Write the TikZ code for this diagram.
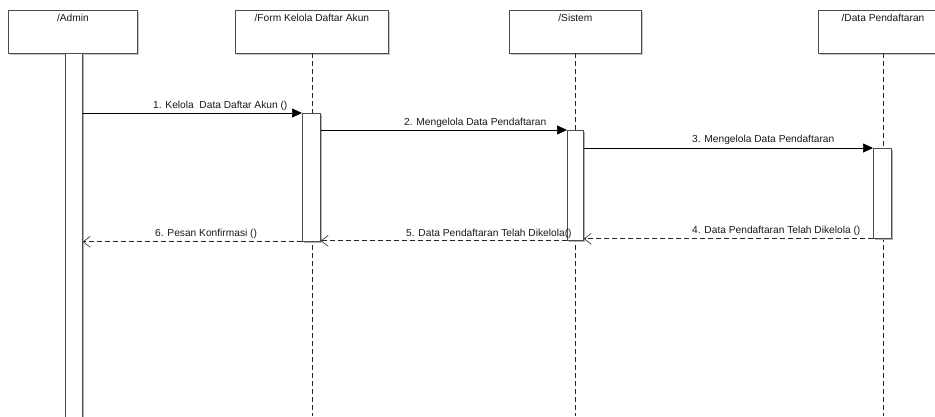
\documentclass[tikz,border=0pt]{standalone}
\usepackage{fontspec}
\setmainfont{Liberation Sans}
\usetikzlibrary{arrows.meta,shadows}
\begin{document}
\begin{tikzpicture}[x=1pt,y=-1pt,
  txt/.style={font=\fontsize{10.2}{12}\selectfont, inner sep=0pt, text=black!90},
  objbox/.style={draw=black!70, line width=0.8pt, fill=white, anchor=north west,
    drop shadow={shadow xshift=1.2pt, shadow yshift=-1.2pt, fill=black!22, opacity=1}},
  actbar/.style={draw=black!70, line width=0.8pt, fill=white, anchor=north west,
    drop shadow={shadow xshift=1.2pt, shadow yshift=-1.2pt, fill=black!30, opacity=1}},
  lifeline/.style={draw=black!85, line width=0.7pt, dash pattern=on 5pt off 3pt},
  syncmsg/.style={draw=black, line width=0.7pt, -{Triangle[length=10pt,width=9pt]}},
  retmsg/.style={draw=black!85, line width=0.7pt, dash pattern=on 5pt off 3pt,
    -{Straight Barb[length=7pt,width=11pt,line width=0.6pt]}}
]
\fill[white] (0,0) rectangle (935,416);
\useasboundingbox (0,0) rectangle (935,416);
\clip (0,0) rectangle (935,416);

% object boxes
\node[objbox, minimum width=129pt, minimum height=43pt] (admin) at (8,10) {};
\node[objbox, minimum width=153pt, minimum height=43pt] (form) at (235,10) {};
\node[objbox, minimum width=132pt, minimum height=43pt] (sistem) at (509,10) {};
\node[objbox, minimum width=130pt, minimum height=43pt] (data) at (818,10) {};

\node[txt, anchor=base] (tadmin) at (admin.north |- 0,21) {/Admin};
\node[txt, anchor=base] (tform) at (form.north |- 0,21) {/Form Kelola Daftar Akun};
\node[txt, anchor=base] (tsistem) at (sistem.north |- 0,21) {/Sistem};
\node[txt, anchor=base] (tdata) at (883,21) {/Data Pendaftaran};

% lifelines
\coordinate (formtop) at (312,53);
\coordinate (formend) at (312,416);
\coordinate (sistemtop) at (575,53);
\coordinate (sistemend) at (575,416);
\coordinate (datatop) at (883,53);
\coordinate (dataend) at (883,416);
\draw[lifeline] (formtop) -- (formend);
\draw[lifeline] (sistemtop) -- (sistemend);
\draw[lifeline] (datatop) -- (dataend);

% activation bars
\node[actbar, minimum width=17pt, minimum height=366pt] (aa) at (65,53) {};
\node[actbar, minimum width=18pt, minimum height=128pt] (fa) at (302,113) {};
\node[actbar, minimum width=16pt, minimum height=110pt] (sa) at (567,130) {};
\node[actbar, minimum width=18pt, minimum height=90pt] (da) at (873,148) {};

% messages
\draw[syncmsg] (aa.east |- fa.north) -- (fa.north west);
\draw[syncmsg] (fa.east |- sa.north) -- (sa.north west);
\draw[syncmsg] (sa.east |- da.north) -- (da.north west);
\draw[retmsg] (da.south west) -- (sa.east |- da.south);
\draw[retmsg] (sa.south west) -- (fa.east |- sa.south);
\draw[retmsg] (fa.south west) -- (aa.east |- fa.south);

% labels
\node[txt, anchor=base west] (m1) at (153,108) {1. Kelola\ \ Data Daftar Akun ()};
\node[txt, anchor=base west] (m2) at (404,125) {2. Mengelola Data Pendaftaran};
\node[txt, anchor=base west] (m3) at (692,142) {3. Mengelola Data Pendaftaran};
\node[txt, anchor=base west] (m4) at (692,233) {4. Data Pendaftaran Telah Dikelola ()};
\node[txt, anchor=base west] (m5) at (406,236) {5. Data Pendaftaran Telah Dikelola()};
\node[txt, anchor=base west] (m6) at (155,236) {6. Pesan Konfirmasi ()};
\end{tikzpicture}
\end{document}
